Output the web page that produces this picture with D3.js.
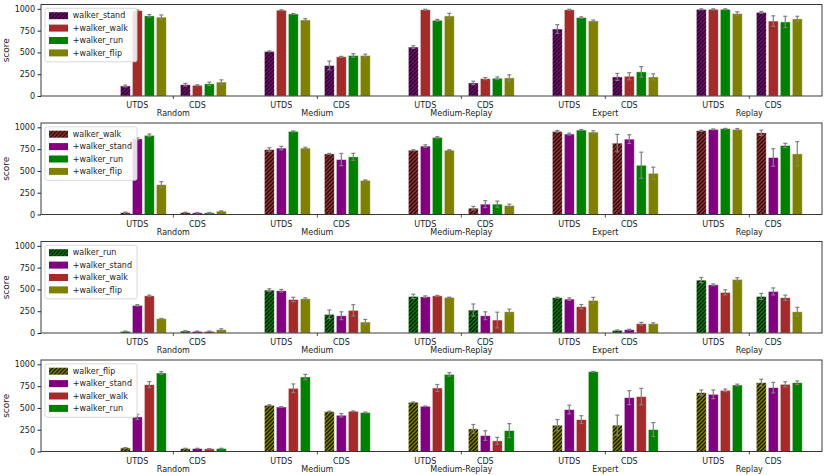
<!DOCTYPE html>
<html>
<head>
<meta charset="utf-8">
<script src="https://cdn.jsdelivr.net/npm/d3@7"></script>
<style>
  body { margin: 0; background: #fff; }
  svg { font-family: "DejaVu Sans", sans-serif; }
</style>
</head>
<body>
<svg id="chart" width="830" height="475"></svg>
<script>
// categories
const groups = ["Random", "Medium", "Medium-Replay", "Expert", "Replay"];
const methods = ["UTDS", "CDS"];
const yTicks = [0, 250, 500, 750, 1000];

// colours per task
const taskColor = {
    walker_stand: "#800080",
    walker_walk: "#a52a2a",
    walker_run: "#008000",
    walker_flip: "#808000"
};

// series order per panel (first one is the hatched single-task baseline)
const panel1Series = ["walker_stand", "walker_walk", "walker_run", "walker_flip"];
const panel2Series = ["walker_walk", "walker_stand", "walker_run", "walker_flip"];
const panel3Series = ["walker_run", "walker_stand", "walker_walk", "walker_flip"];
const panel4Series = ["walker_flip", "walker_stand", "walker_walk", "walker_run"];

// values: order = Random UTDS, Random CDS, Medium UTDS, Medium CDS, ... Replay CDS
const panel1Mean = [
    [115, 130, 512, 350, 562, 150, 769, 219, 995, 960],
    [980, 123, 985, 450, 990, 200, 990, 227, 995, 860],
    [920, 140, 942, 465, 869, 204, 900, 277, 995, 850],
    [905, 160, 873, 465, 919, 208, 862, 219, 946, 885]
];
const panel1Err = [
    [10, 15, 5, 50, 15, 20, 50, 40, 5, 10],
    [5, 5, 5, 5, 5, 12, 5, 40, 5, 60],
    [15, 20, 5, 20, 10, 15, 8, 60, 5, 65],
    [25, 25, 15, 15, 30, 35, 10, 35, 20, 30]
];
const panel2Mean = [
    [23, 23, 746, 696, 738, 73, 954, 819, 962, 938],
    [869, 20, 762, 631, 785, 119, 923, 865, 977, 654],
    [908, 20, 954, 662, 885, 119, 969, 565, 985, 792],
    [342, 38, 762, 392, 738, 104, 946, 473, 977, 696]
];
const panel2Err = [
    [5, 3, 20, 5, 5, 20, 10, 100, 5, 30],
    [10, 3, 20, 70, 15, 40, 10, 50, 5, 100],
    [15, 3, 5, 40, 8, 35, 5, 150, 3, 25],
    [35, 3, 10, 5, 5, 15, 15, 70, 10, 140]
];
const panel3Mean = [
    [19, 23, 492, 214, 420, 263, 405, 31, 607, 420],
    [317, 19, 485, 198, 416, 198, 389, 38, 553, 477],
    [427, 19, 385, 260, 427, 149, 302, 107, 466, 405],
    [164, 38, 393, 126, 408, 244, 374, 107, 615, 244]
];
const panel3Err = [
    [3, 3, 15, 50, 25, 70, 5, 3, 30, 35],
    [8, 3, 15, 45, 10, 45, 15, 5, 10, 40],
    [8, 3, 25, 65, 5, 90, 25, 15, 30, 30],
    [3, 10, 10, 30, 3, 30, 35, 10, 20, 50]
];
const panel4Mean = [
    [42, 34, 531, 458, 565, 260, 302, 302, 676, 790],
    [397, 34, 511, 416, 519, 183, 481, 618, 656, 733],
    [767, 31, 725, 462, 729, 122, 366, 630, 702, 771],
    [901, 34, 855, 447, 885, 240, 916, 252, 763, 790]
];
const panel4Err = [
    [3, 3, 5, 5, 3, 50, 65, 115, 30, 40],
    [30, 3, 3, 20, 3, 55, 50, 80, 50, 60],
    [35, 3, 50, 3, 40, 40, 45, 95, 15, 30],
    [15, 3, 30, 5, 20, 80, 3, 80, 10, 20]
];

const panels = [
    { series: panel1Series, mean: panel1Mean, err: panel1Err },
    { series: panel2Series, mean: panel2Mean, err: panel2Err },
    { series: panel3Series, mean: panel3Mean, err: panel3Err },
    { series: panel4Series, mean: panel4Mean, err: panel4Err }
];

const svg = d3.select("#chart");
const axLeft = 41, axRight = 822, axTop0 = 4.5, panelStep = 118.5, axHeight = 91.5;

// x in data units: group g at g, UTDS/CDS clusters at -/+ offset
const x = d3.scaleLinear().domain([-0.919, 4.505]).range([axLeft, axRight]);
const clusterOff = 0.2083, barStep = 0.0833, barW = 0.0694;

// hatch patterns
const defs = svg.append("defs");
Object.keys(taskColor).forEach(k => {
    const p = defs.append("pattern")
        .attr("id", "hatch-" + k)
        .attr("patternUnits", "userSpaceOnUse")
        .attr("width", 4).attr("height", 4);
    p.append("rect").attr("width", 4).attr("height", 4).attr("fill", taskColor[k]);
    p.append("path")
        .attr("d", "M-1,1 L1,-1 M0,4 L4,0 M3,5 L5,3")
        .attr("stroke", "#111").attr("stroke-width", 1.3);
});

// layers: marks first, then axes / labels / legends on top
const markLayer = svg.append("g").attr("class", "marks");
const axisLayer = svg.append("g").attr("class", "axes");

panels.forEach((panel, pi) => {
    const panelTop = axTop0 + pi * panelStep;
    const panelBottom = panelTop + axHeight;
    const y = d3.scaleLinear().domain([0, 1050]).range([panelBottom, panelTop]);
    const g = markLayer.append("g").attr("class", "panel-" + pi);

    // bars
    const bars = [];
    panel.series.forEach((s, si) => {
        panel.mean[si].forEach((v, ci) => {
            const gi = Math.floor(ci / 2), mi = ci % 2;
            const cx = gi + (mi === 0 ? -clusterOff : clusterOff) + (si - 1.5) * barStep;
            bars.push({ s, si, v, e: panel.err[si][ci], cx });
        });
    });

    g.selectAll(".bar")
        .data(bars)
        .enter().append("rect")
        .attr("class", "bar")
        .attr("x", d => x(d.cx - barW / 2))
        .attr("width", x(barW) - x(0))
        .attr("y", d => y(d.v))
        .attr("height", d => y(0) - y(d.v))
        .attr("fill", d => d.si === 0 ? "url(#hatch-" + d.s + ")" : taskColor[d.s])
        .attr("stroke", "#fff")
        .attr("stroke-opacity", 0.6)
        .attr("stroke-width", 0.8);

    // error bars
    const eb = g.selectAll(".err").data(bars).enter().append("g")
        .attr("class", "err")
        .attr("stroke", "#808080").attr("stroke-width", 1.2);
    eb.append("line")
        .attr("x1", d => x(d.cx)).attr("x2", d => x(d.cx))
        .attr("y1", d => y(Math.max(0, d.v - d.e))).attr("y2", d => y(d.v + d.e));
    eb.append("line")
        .attr("x1", d => x(d.cx) - 2).attr("x2", d => x(d.cx) + 2)
        .attr("y1", d => y(d.v + d.e)).attr("y2", d => y(d.v + d.e));
    eb.append("line")
        .attr("x1", d => x(d.cx) - 2).attr("x2", d => x(d.cx) + 2)
        .attr("y1", d => y(Math.max(0, d.v - d.e))).attr("y2", d => y(Math.max(0, d.v - d.e)));

    const a = axisLayer.append("g").attr("class", "panel-axes-" + pi);

    // frame
    a.append("rect")
        .attr("x", axLeft).attr("y", panelTop)
        .attr("width", axRight - axLeft).attr("height", axHeight)
        .attr("fill", "none").attr("stroke", "#262626").attr("stroke-width", 0.9);

    // y axis
    const yAxis = a.append("g")
        .attr("class", "y-axis")
        .attr("transform", `translate(${axLeft},0)`)
        .call(d3.axisLeft(y).tickValues(yTicks).tickFormat(d3.format("d")).tickSize(3.5).tickPadding(2.5));
    yAxis.select(".domain").remove();
    yAxis.selectAll("text").attr("font-size", 8).attr("fill", "#222").attr("font-family", "DejaVu Sans");
    yAxis.selectAll("line").attr("stroke", "#262626");

    a.append("text")
        .attr("transform", `translate(9,${(panelTop + panelBottom) / 2}) rotate(-90)`)
        .attr("text-anchor", "middle")
        .attr("font-size", 9).attr("fill", "#222")
        .text("score");

    // x labels
    groups.forEach((name, gi) => {
        methods.forEach((m, mi) => {
            const lx = gi + (mi === 0 ? -clusterOff : clusterOff) - 0.5 * barStep;
            a.append("text")
                .attr("x", x(lx)).attr("y", panelBottom + 12)
                .attr("text-anchor", "middle").attr("font-size", 8).attr("fill", "#222")
                .text(m);
        });
        a.append("line")
            .attr("x1", x(gi)).attr("x2", x(gi))
            .attr("y1", panelBottom).attr("y2", panelBottom + 3)
            .attr("stroke", "#262626").attr("stroke-width", 0.8);
        a.append("text")
            .attr("x", x(gi)).attr("y", panelBottom + 20)
            .attr("text-anchor", "middle").attr("font-size", 8).attr("fill", "#222")
            .text(name);
    });

    // legend
    const lg = a.append("g").attr("transform", `translate(${axLeft + 4},${panelTop + 3.8})`);
    lg.append("rect")
        .attr("width", 92).attr("height", 53.5).attr("rx", 2)
        .attr("fill", "#fff").attr("fill-opacity", 0.85)
        .attr("stroke", "#d0d0d0").attr("stroke-width", 0.8);
    panel.series.forEach((s, si) => {
        const cy = 7.4 + si * 12.4;
        lg.append("rect")
            .attr("x", 4).attr("y", cy - 3.5).attr("width", 19).attr("height", 7)
            .attr("fill", si === 0 ? "url(#hatch-" + s + ")" : taskColor[s]);
        lg.append("text")
            .attr("x", 27.7).attr("y", cy).attr("dy", "0.35em")
            .attr("font-size", 8).attr("fill", "#222")
            .text(si === 0 ? s : "+" + s);
    });
});
</script>
</body>
</html>
